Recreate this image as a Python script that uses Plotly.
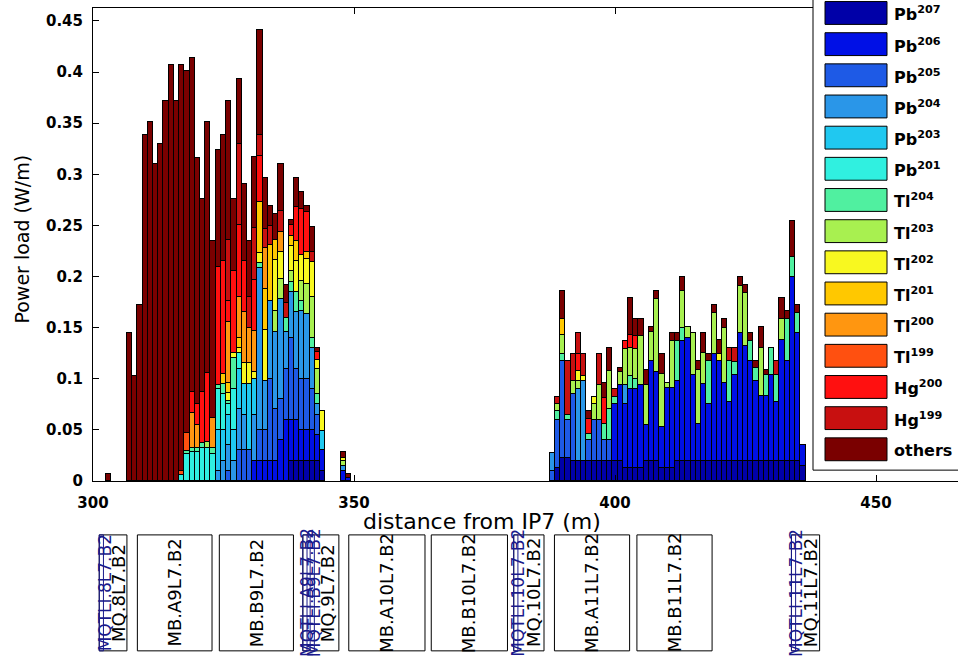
import plotly.graph_objects as go

# ---------------- data ----------------
positions = [303] + list(range(307, 345)) + [348, 349] + list(range(388, 437))

species = ["Pb207", "Pb206", "Pb205", "Pb204", "Pb203", "Pb201", "Tl204", "Tl203",
           "Tl202", "Tl201", "Tl200", "Tl199", "Hg200", "Hg199", "others"]
legend_labels = ["Pb<sup>207</sup>", "Pb<sup>206</sup>", "Pb<sup>205</sup>", "Pb<sup>204</sup>",
                 "Pb<sup>203</sup>", "Pb<sup>201</sup>", "Tl<sup>204</sup>", "Tl<sup>203</sup>",
                 "Tl<sup>202</sup>", "Tl<sup>201</sup>", "Tl<sup>200</sup>", "Tl<sup>199</sup>",
                 "Hg<sup>200</sup>", "Hg<sup>199</sup>", "others"]
colors = ["#0000a8", "#0010e6", "#1e5ae6", "#2a96e8", "#20c8f0", "#30f0e0", "#50f0a0", "#a8f050",
          "#f8f820", "#ffc800", "#ff9610", "#ff5010", "#ff1010", "#c81010", "#7a0000"]

Z10 = [0] * 10
pb207 = (Z10 + Z10 + Z10 +
         [0, 0, .02, .02, .02, .02, .02, .02, .01, 0] +
         [0, 0, .013, .023, .023, .02, .02, .02, .02, .02] +
         [.02, .02, .02, .02, .02, .013, .013, .013, .013, .02] +
         [.02, .02, .013, .013, .013, .02, .02, .02, .02, .02] +
         [.02, .02, .02, .02, .02, .02, .02, .02, .02, .02] +
         [.02, .02, .02, .02, .02, .02, .02, .02, .02, .015])
pb206 = (Z10 + Z10 +
         [0, 0, 0, 0, 0, .02, .02, .02, .02, .02] +
         [.04, .06, .04, .04, .03, .03, .03, .025, .02, .01] +
         [.003, 0, 0, 0, 0, 0, 0, 0, 0, 0] +
         [0, 0, 0, .055, .074, .062, .077, .077, .081, .035] +
         [.097, .087, .04, .078, .078, .078, .117, .12, .084, .036] +
         [.075, .055, .104, .097, .076, .057, .084, .125, .112, .097] +
         [.078, .063, .063, .084, .057, .118, .097, .18, .125, .02])
pb205 = (Z10 + Z10 +
         [.01, 0, .03, .03, .03, 0, .03, .03, .08, .05] +
         [.04, .05, .08, .05, .05, .05, .04, .02, 0, 0] +
         [0, .01, .047, .094, .037, .065, 0, 0, .02, .04] +
         [.04, .02, .02, 0, 0, 0, 0, 0, 0, 0] +
         Z10 + Z10 + Z10)
pb204 = (Z10 +
         [0, 0, 0, 0, 0, 0, 0, 0, .01, .02] +
         [.025, .02, .04, .035, 0, .045, .158, .048, .076, .076] +
         [.098, .036, .045, .055, .066, .063, .04, .01, 0, .005] +
         [0, .017, 0, 0, 0, 0, .07, .078, 0, 0] +
         [0, 0, 0, 0, 0, .019, 0, 0, 0, 0] +
         Z10 + Z10 + Z10)
pb203 = (Z10 +
         [0, 0, 0, 0, 0, 0, 0, 0, .04, .03] +
         [.03, .03, .04, .03, .065, .035, 0, 0, 0, 0] +
         [0, 0, 0, 0, 0, 0, 0, 0, .019, 0] +
         Z10 + Z10 + Z10 + Z10 + Z10)
pb201 = (Z10 +
         [0, .006, .026, .028, .028, .032, .032, .026, .04, .035] +
         [.01, .04, .015, 0, 0, 0, 0, 0, 0, 0] +
         Z10 + Z10 + Z10 + Z10 + Z10 + Z10)
tl204 = (Z10 +
         [0, 0, .003, .004, .004, .005, 0, .006, .004, .01] +
         [.003, .03, 0, 0, 0, 0, .005, 0, 0, 0] +
         [0, .013, .01, .02, .01, 0, .01, .01, 0, 0] +
         [0, 0, .009, .007, .005, 0, 0, 0, .006, 0] +
         [0, .016, .03, .007, 0, 0, .013, .01, 0, 0] +
         [0, 0, 0, 0, 0, .039, .013, 0, 0, 0] +
         [0, .042, 0, 0, 0, .04, .012, 0, 0, .02] +
         [.013, 0, .021, .026, .027, 0, .041, .019, .019, 0])
tl203 = (Z10 +
         [0, 0, 0, 0, 0, 0, .006, 0, 0, 0] +
         [0, 0, 0, 0, 0, 0, 0, 0, 0, .02] +
         [.02, 0, .01, 0, .02, .03, .04, .025, 0, .005] +
         [0, 0, .006, .019, 0, .013, .008, 0, 0, .015] +
         [.034, 0, .038, 0, .013, .035, .027, .029, .048, .039] +
         [.029, .071, .052, .005, .046, 0, .036, .011, .041, .053] +
         [.03, 0, .04, 0, .054, 0, 0, .046, .052, 0] +
         [0, .047, 0, 0, 0, .02, 0, 0, 0, 0])
tl202 = (Z10 + Z10 +
         [.008, .005, .005, .02, .02, .007, .01, .05, 0, .05] +
         [.026, 0, .025, .03, .025, .024, .034, .008, .02, .003] +
         [0, 0, 0, 0, 0, 0, .01, .005, 0, .007] +
         Z10 + Z10 +
         [0, 0, 0, .007, 0, 0, 0, 0, 0, 0] +
         Z10)
tl201 = (Z10 +
         [0, 0, 0, 0, 0, 0, 0, 0, 0, .01] +
         [.01, 0, .01, 0, 0, 0, .05, .04, .055, .02] +
         [0, 0, .01, .02, 0, .007, 0, 0, 0, 0] +
         [0, 0, 0, .015, 0, 0, 0, 0, 0, 0] +
         Z10 + Z10 + Z10 + Z10)
tl200 = (Z10 +
         [0, 0, 0, .035, .023, 0, 0, .03, 0, 0] +
         [.06, 0, .04, .05, .035, .04, 0, .04, 0, 0] +
         [.02, 0, 0, 0, 0, 0, 0, 0, 0, 0] +
         Z10 + Z10 + Z10 + Z10 + Z10)
tl199 = (Z10 +
         [0, .004, .018, 0, 0, 0, 0, 0, 0, 0] +
         Z10 + Z10 + Z10 + Z10 + Z10 + Z10 + Z10)
hg200 = (Z10 +
         [0, 0, 0, .02, .02, .05, .068, 0, .115, .11] +
         [.02, .08, .07, .05, 0, .05, .045, 0, 0, 0] +
         [0, 0, .01, .033, .045, .039, 0, .008, 0, 0] +
         [0, 0, 0, 0, 0, 0, .016, 0, .015, 0] +
         [0, .025, 0, 0, 0, .008, .013, .013, 0, 0] +
         Z10 + Z10 + Z10)
hg199 = (Z10 + Z10 +
         [.06, 0, .08, 0, .03, .05, .02, .018, .018, 0] +
         [.02, .015, 0, 0, 0, 0, .01, 0, 0, 0] +
         [0, 0, .007, 0, .052, .026, .021, .021, 0, 0] +
         [.03, 0, 0, .008, 0, 0, 0, 0, 0, 0] +
         Z10 +
         [0, 0, 0, 0, 0, .013, .014, 0, 0, 0] +
         [0, 0, 0, 0, .013, 0, 0, 0, 0, 0])
others = ([.007, .145, .103, .172, .338, .351, .31, .33, .372, .407] +
          [.372, .397, .354, .327, .241, .189, .245, .173, .115, .123] +
          [.136, .071, .063, .075, .055, .07, .103, .05, .02, .025] +
          [.046, .018, .005, .028, .017, .006, .024, .004, 0, .005] +
          [.004, 0, 0, .028, 0, 0, 0, 0, .008, 0] +
          [0, .015, .022, 0, .004, 0, .036, .016, .016, .015] +
          [.005, .008, .019, 0, .008, .008, .014, 0, 0, .008] +
          [.02, .007, .008, .014, .008, 0, 0, .009, .008, .008] +
          [.006, .021, .005, 0, 0, .021, .008, .035, .008, 0])

series = [pb207, pb206, pb205, pb204, pb203, pb201, tl204, tl203,
          tl202, tl201, tl200, tl199, hg200, hg199, others]

x_ticks = [300, 350, 400, 450]

# beam-line elements below the axis (start / end in m, label position)
elem_names = ["MQ.8L7.B2", "MQTLI.8L7.B2", "MB.A9L7.B2", "MB.B9L7.B2", "MQ.9L7.B2",
              "MQTLI.A9L7.B2", "MQTLI.B9L7.B2", "MB.A10L7.B2", "MB.B10L7.B2", "MQ.10L7.B2",
              "MQTLI.10L7.B2", "MB.A11L7.B2", "MB.B11L7.B2", "MQ.11L7.B2", "MQTLI.11L7.B2"]
elem_start = [301.2, 301.2, 308.5, 324.2, 340.2, 340.2, 341.6, 349.0, 364.8, 380.6,
              380.6, 388.4, 404.2, 433.8, 433.8]
elem_end = [306.5, 302.0, 322.8, 338.4, 347.1, 341.0, 342.4, 363.6, 379.4, 386.4,
            381.4, 402.8, 418.6, 439.2, 434.6]
elem_label_x = [305.0, 302.2, 315.65, 331.3, 344.9, 341.0, 342.4, 356.3, 372.1, 384.5,
                381.4, 395.6, 411.4, 437.6, 434.7]

# ---------------- layout helpers (pixel -> paper) ----------------
W, H = 958, 661
ML, MT, MBOT = 93, 8, 5
PW = W - ML
PH = H - MT - MBOT


def pxx(p):
    return (p - ML) / PW


def pxy(p):
    return (H - MBOT - p) / PH


FONT = "DejaVu Sans"
NAVY = "#1a1a8c"

fig = go.Figure()
for name, vals, col in zip(species, series, colors):
    fig.add_trace(go.Bar(
        x=positions, y=[v if v > 0 else None for v in vals], width=1, name=name,
        marker=dict(color=col, line=dict(color="black", width=1)),
        showlegend=False, xaxis="x", yaxis="y"))

fig.add_trace(go.Scatter(x=[], y=[], xaxis="x2", yaxis="y2", showlegend=False))

shapes = []
annotations = []

# element boxes and labels
for nm, s, e, lx in zip(elem_names, elem_start, elem_end, elem_label_x):
    if nm.startswith("MQTLI"):
        col, fs = NAVY, 17
    elif nm.startswith("MQ"):
        col, fs = "black", 18
    else:
        col, fs = "black", 18
    shapes.append(dict(type="rect", xref="x2", yref="y2", x0=s, x1=e, y0=0, y1=1,
                       line=dict(color=col, width=1), fillcolor="rgba(0,0,0,0)"))
    annotations.append(dict(xref="x2", yref="y2", x=lx, y=0.5, text=nm, textangle=-90,
                            xanchor="center", yanchor="middle",
                            showarrow=False, font=dict(family=FONT, size=fs, color=col)))

# legend (drawn manually to reproduce the large swatches)
shapes.append(dict(type="rect", xref="paper", yref="paper", x0=pxx(813), x1=pxx(962),
                   y0=pxy(473), y1=pxy(-5), fillcolor="white",
                   line=dict(color="black", width=1), layer="above"))
for i, (lab, col) in enumerate(zip(legend_labels, colors)):
    yc = 13 + 31.36 * i
    shapes.append(dict(type="rect", xref="paper", yref="paper", x0=pxx(825), x1=pxx(887),
                       y0=pxy(yc + 11.5), y1=pxy(yc - 11.5), fillcolor=col,
                       line=dict(color="black", width=1), layer="above"))
    annotations.append(dict(xref="paper", yref="paper", x=pxx(892), y=pxy(yc + 1),
                            xanchor="left", yanchor="middle", text=lab, showarrow=False,
                            font=dict(family=FONT, size=16, color="black", weight="bold")))

# axis titles
annotations.append(dict(xref="paper", yref="paper", x=pxx(482), y=pxy(525),
                        xanchor="center", yanchor="middle",
                        text="distance from IP7 (m)", showarrow=False,
                        font=dict(family=FONT, size=22, color="black")))
annotations.append(dict(xref="paper", yref="paper", x=pxx(22), y=pxy(241),
                        xanchor="center", yanchor="middle",
                        text="Power load (W/m)", textangle=-90, showarrow=False,
                        font=dict(family=FONT, size=19, color="black")))

fig.update_layout(
    width=W, height=H,
    margin=dict(l=ML, r=0, t=MT, b=MBOT),
    paper_bgcolor="white", plot_bgcolor="white",
    barmode="stack", bargap=0,
    xaxis=dict(range=[300, 300 + PW / 5.22], domain=[0, 1], anchor="y",
               tickvals=x_ticks, ticktext=[str(t) for t in x_ticks],
               ticks="inside", ticklen=6, tickcolor="black",
               showline=True, linecolor="black", linewidth=1, mirror="ticks",
               showgrid=False, zeroline=False, ticklabelstandoff=8,
               tickfont=dict(family=FONT, size=15, color="black", weight="bold")),
    yaxis=dict(range=[0, (484 - 8) / 1029], domain=[pxy(484), 1], anchor="x",
               tick0=0, dtick=0.05, ticks="inside", ticklen=6, tickcolor="black",
               showline=True, linecolor="black", linewidth=1,
               showgrid=False, zeroline=False, ticklabelstandoff=6,
               tickfont=dict(family=FONT, size=15, color="black", weight="bold")),
    xaxis2=dict(matches="x", anchor="y2", domain=[0, 1], visible=False),
    yaxis2=dict(domain=[0, pxy(537)], range=[-0.01, 1.01], visible=False),
    shapes=shapes,
    annotations=annotations,
)

fig.write_html("out.html", config={"displayModeBar": False})
